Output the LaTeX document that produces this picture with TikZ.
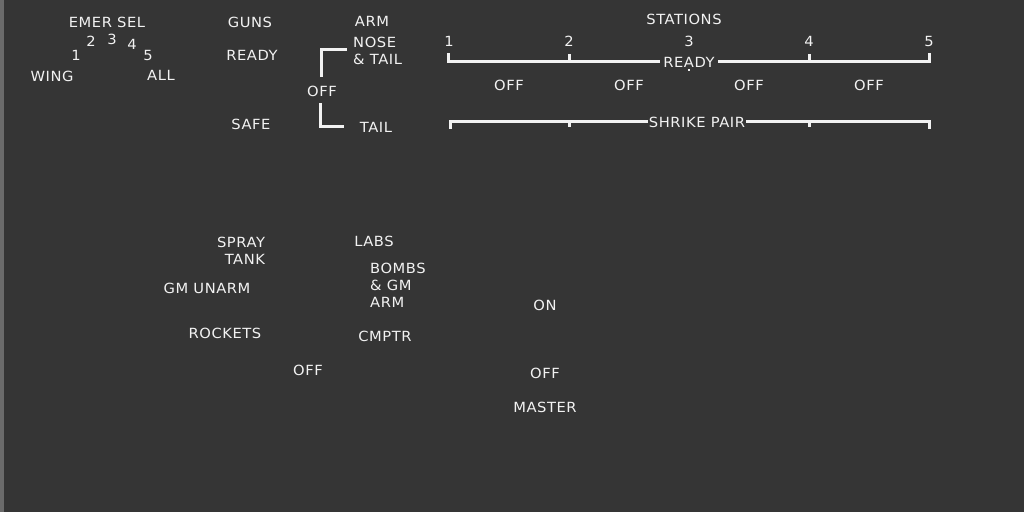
\documentclass[tikz,border=0pt]{standalone}
\usepackage{fontspec}
\setmainfont[FakeStretch=1.05,LetterSpace=4]{DejaVu Sans}
\definecolor{bg}{HTML}{353535}
\definecolor{fg}{HTML}{F2F2F2}
\definecolor{edge}{HTML}{6B6B6B}
\begin{document}
\begin{tikzpicture}[x=1pt,y=-1pt,
  lbl/.style={text=fg,font=\fontsize{14}{17}\selectfont,inner sep=0pt},
  bar/.style={draw=fg,line width=3pt},
  gapped/.style={lbl,fill=bg,inner xsep=3pt,inner ysep=2pt}]
\fill[bg] (0,0) rectangle (1024,512);
\fill[edge] (0,0) rectangle (4,512);
% EMER SEL
\node[lbl] (emer) at (107,22) {EMER SEL};
\node[lbl] (e1) at (76,55) {1};
\node[lbl] (e2) at (91,41) {2};
\node[lbl] (e3) at (112,39) {3};
\node[lbl] (e4) at (132,44) {4};
\node[lbl] (e5) at (148,55) {5};
\node[lbl] (wing) at (52,76) {WING};
\node[lbl] (all) at (161,75) {ALL};
% GUNS
\node[lbl] (guns) at (250,22) {GUNS};
\node[lbl] (gready) at (252,55) {READY};
\node[lbl] (safe) at (251,124) {SAFE};
% ARM
\node[lbl] (arm) at (372,21) {ARM};
\node[lbl,anchor=west,align=left] (nose) at (353,50.5) {NOSE\\\& TAIL};
\node[lbl] (aoff) at (322,91) {OFF};
\node[lbl] (tail) at (376,127) {TAIL};
\draw[bar] (346.5,49.5) -- (321.5,49.5) -- (321.5,76.5);
\draw[bar] (320.8,103.3) -- (320.8,126.3) -- (344,126.3);
% STATIONS
\node[lbl] (stations) at (684,19) {STATIONS};
\foreach \i/\x in {1/449,2/569,3/689,4/809,5/929}{
  \node[lbl] (n\i) at (\x,41) {\i};
}
\coordinate (r1) at (448.5,61.5);
\coordinate (r2) at (569.5,61.5);
\coordinate (r4) at (809.5,61.5);
\coordinate (r5) at (929,61.5);
\node[gapped] (ready) at (689,62.5) {READY};
\draw[bar] ([yshift=8.5pt]r1) -- (r1) -- (r2) -- (ready.west |- r2);
\draw[bar] (ready.east |- r4) -- (r4) -- (r5) -- ([yshift=8.5pt]r5);
\draw[bar] (r2) -- ([yshift=8pt]r2);
\draw[bar] (r4) -- ([yshift=8pt]r4);
\fill[fg] (688,69) rectangle (690,71);
\foreach \i/\x in {1/509,2/629,3/749,4/869}{
  \node[lbl] (off\i) at (\x,85) {OFF};
}
\coordinate (s1) at (450.5,121.3);
\coordinate (s2) at (569.5,121.3);
\coordinate (s4) at (809.5,121.3);
\coordinate (s5) at (929,121.3);
\node[gapped,inner xsep=1pt] (shrike) at (697,122.5) {SHRIKE PAIR};
\draw[bar] ([yshift=-7.5pt]s1) -- (s1) -- (s2) -- (shrike.west |- s2);
\draw[bar] (shrike.east |- s4) -- (s4) -- (s5) -- ([yshift=-7.5pt]s5);
\draw[bar] (s2) -- ([yshift=-6pt]s2);
\draw[bar] (s4) -- ([yshift=-6pt]s4);
% lower section
\node[lbl,align=right] (spray) at (241,250.5) {SPRAY\\TANK};
\node[lbl] (labs) at (374,241) {LABS};
\node[lbl,anchor=west,align=left] (bombs) at (370,285) {BOMBS\\\& GM\\ARM};
\node[lbl] (gm) at (207,288) {GM UNARM};
\node[lbl] (rockets) at (225,333) {ROCKETS};
\node[lbl] (cmptr) at (385,336) {CMPTR};
\node[lbl] (loff) at (308,370) {OFF};
\node[lbl] (on) at (545,305) {ON};
\node[lbl] (moff) at (545,373) {OFF};
\node[lbl] (master) at (545,407) {MASTER};
\end{tikzpicture}
\end{document}
